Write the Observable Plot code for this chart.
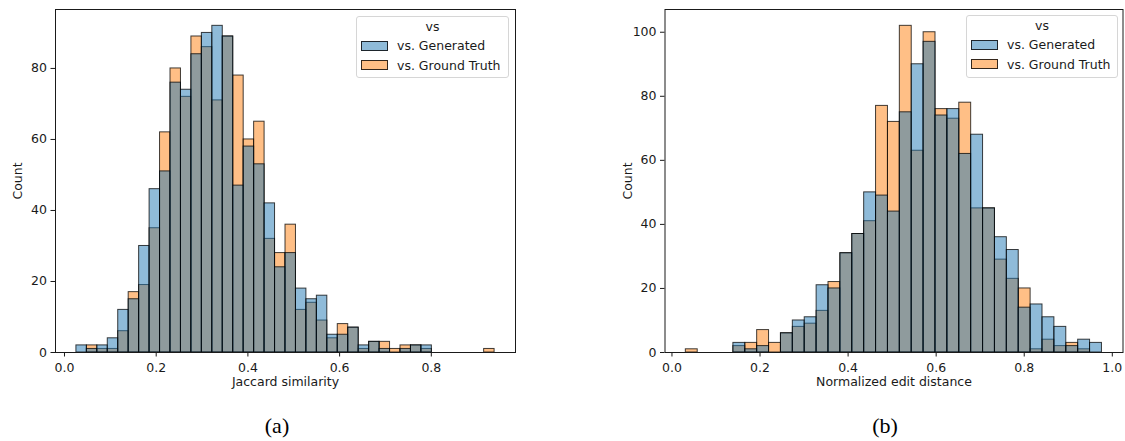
<!DOCTYPE html>
<html><head><meta charset="utf-8">
<script src="https://cdn.jsdelivr.net/npm/d3@7"></script>
<script src="https://cdn.jsdelivr.net/npm/@observablehq/plot@0.6"></script>
<style>
body{margin:0;background:#fff;}
#wrap{position:relative;width:1125px;height:441px;overflow:hidden;font-family:"DejaVu Sans",sans-serif;color:#1a1a1a;}
.panel{position:absolute;top:0;}
.legend{position:absolute;border:1px solid #d6d6d6;border-radius:3px;background:rgba(255,255,255,0.8);box-sizing:border-box;font-size:12.5px;color:#1a1a1a;}
.legend .title{position:absolute;left:0;right:0;text-align:center;line-height:14px;}
.legend .row{position:absolute;left:4px;height:14px;line-height:14px;white-space:nowrap;}
.legend .sw{display:inline-block;width:25px;height:8px;border:1px solid rgba(0,0,0,0.8);vertical-align:middle;margin-right:9px;position:relative;top:-1px;}
.caption{position:absolute;font-family:"Liberation Serif","Times New Roman",serif;font-size:22px;color:#000;transform:translateX(-50%);white-space:nowrap;}
</style></head><body><div id="wrap"></div>
<script>
// ---- Data ----
const seriesNames = ["vs. Generated", "vs. Ground Truth"];
const seriesColors = ["#1f77b4", "#ff7f0e"];

// (a) Jaccard similarity: 40 bins
const jaccardBinStart = 0.026;
const jaccardBinWidth = 0.0228;
const jaccardGenerated   = [2,1,2,4,12,15,30,46,51,76, 74,84,90,92,89,47,58,53,42,24, 28,18,15,16,5,5,7,2,3,1, 0,1,2,2,0,0,0,0,0,0];
const jaccardGroundTruth = [0,2,1,1,6,17,19,35,62,80, 72,89,86,71,89,78,60,65,32,28, 36,12,14,9,4,8,7,1,3,3, 1,2,2,1,0,0,0,0,0,1];
const jaccardXTicks = [0, 0.2, 0.4, 0.6, 0.8];
const jaccardYTicks = [0, 20, 40, 60, 80];

// (b) Normalized edit distance: 35 bins
const editBinStart = 0.0315;
const editBinWidth = 0.027;
const editGenerated   = [0,0,0,0,3,1,2,0,6,10, 11,21,20,31,37,50,49,44,75,90, 97,74,76,62,68,45,36,32,14,15, 11,8,2,4,3];
const editGroundTruth = [1,0,0,0,2,3,7,3,6,8, 9,13,22,31,37,41,77,72,102,63, 100,76,73,78,45,45,29,23,20,1, 4,2,3,1,0];
const editXTicks = [0, 0.2, 0.4, 0.6, 0.8, 1.0];
const editYTicks = [0, 20, 40, 60, 80, 100];

function toRows(counts, start, width, series) {
  const rows = [];
  counts.forEach((c, i) => {
    if (c > 0) rows.push({x1: start + i * width, x2: start + (i + 1) * width, count: c, series});
  });
  return rows;
}

function histPanel(o) {
  const gt = toRows(o.gt, o.start, o.width, seriesNames[1]);
  const gen = toRows(o.gen, o.start, o.width, seriesNames[0]);
  const barOpts = {x1: "x1", x2: "x2", y: "count", fillOpacity: 0.5, stroke: "#000", strokeOpacity: 0.75, strokeWidth: 1, inset: 0};
  return Plot.plot({
    width: o.svgWidth, height: 400,
    marginLeft: o.marginLeft, marginRight: o.marginRight, marginTop: 9, marginBottom: 48,
    style: {fontFamily: "DejaVu Sans", fontSize: "12.5px", color: "#1a1a1a", background: "transparent", overflow: "visible"},
    x: {domain: o.xDomain},
    y: {domain: o.yDomain},
    marks: [
      Plot.rectY(gt, {...barOpts, fill: seriesColors[1]}),
      Plot.rectY(gen, {...barOpts, fill: seriesColors[0]}),
      Plot.frame({stroke: "#1a1a1a", strokeWidth: 1}),
      Plot.axisX({ticks: o.xTicks, tickFormat: d3.format(".1f"), tickSize: 4.5, tickPadding: 6,
                  label: o.xLabel, labelAnchor: "center", labelArrow: "none", labelOffset: 33}),
      Plot.axisY({ticks: o.yTicks, tickFormat: d3.format("d"), tickSize: 4.5, tickPadding: 4,
                  label: "Count", labelAnchor: "center", labelArrow: "none", labelOffset: 42})
    ]
  });
}

function legend(left, top, w, h) {
  const div = document.createElement("div");
  div.className = "legend";
  Object.assign(div.style, {left: left + "px", top: top + "px", width: w + "px", height: h + "px"});
  const t = document.createElement("div");
  t.className = "title"; t.textContent = "vs"; t.style.top = "3px";
  div.appendChild(t);
  seriesNames.forEach((name, i) => {
    const r = document.createElement("div");
    r.className = "row";
    r.style.top = (22 + i * 19.5) + "px";
    const sw = document.createElement("span");
    sw.className = "sw";
    sw.style.background = i === 0 ? "rgba(31,119,180,0.5)" : "rgba(255,127,14,0.5)";
    r.appendChild(sw);
    r.appendChild(document.createTextNode(name));
    div.appendChild(r);
  });
  return div;
}

const wrap = document.getElementById("wrap");

const a = histPanel({gen: jaccardGenerated, gt: jaccardGroundTruth, start: jaccardBinStart, width: jaccardBinWidth,
  xDomain: [-0.0196, 0.9836], yDomain: [0, 96.6], xTicks: jaccardXTicks, yTicks: jaccardYTicks,
  xLabel: "Jaccard similarity", svgWidth: 530, marginLeft: 55, marginRight: 15});
const pa = document.createElement("div"); pa.className = "panel"; pa.style.left = "0px"; pa.appendChild(a);
wrap.appendChild(pa);

const b = histPanel({gen: editGenerated, gt: editGroundTruth, start: editBinStart, width: editBinWidth,
  xDomain: [-0.0158, 1.0243], yDomain: [0, 107.1], xTicks: editXTicks, yTicks: editYTicks,
  xLabel: "Normalized edit distance", svgWidth: 565, marginLeft: 104.5, marginRight: 2.5});
const pb = document.createElement("div"); pb.className = "panel"; pb.style.left = "560px"; pb.appendChild(b);
wrap.appendChild(pb);

wrap.appendChild(legend(356, 16, 153, 62));
wrap.appendChild(legend(966, 15, 152, 63));

[["(a)", 277], ["(b)", 885]].forEach(([txt, cx]) => {
  const c = document.createElement("div");
  c.className = "caption"; c.textContent = txt;
  c.style.left = cx + "px"; c.style.top = "413px";
  wrap.appendChild(c);
});
</script></body></html>
